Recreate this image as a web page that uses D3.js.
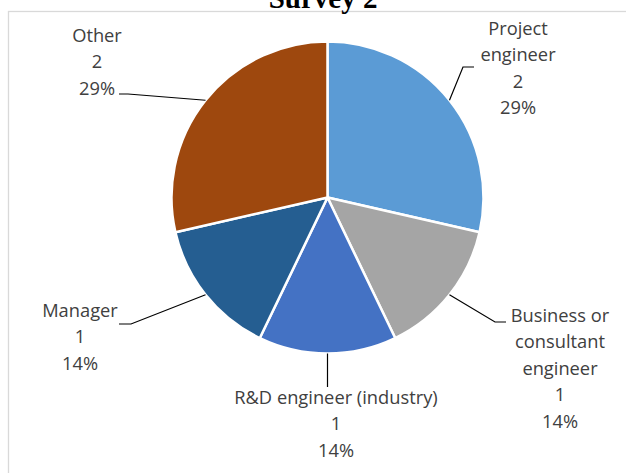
<!DOCTYPE html>
<html><head><meta charset="utf-8">
<script src="https://cdn.jsdelivr.net/npm/d3@7"></script>
<style>html,body{margin:0;padding:0;background:#fff;overflow:hidden}</style>
</head><body>
<svg id="chart" width="626" height="473"></svg>
<script>
const title = "Survey 2";
const categories = ["Project engineer", "Business or consultant engineer", "R&D engineer (industry)", "Manager", "Other"];
const values = [2, 1, 1, 1, 2];
const labelLines = [["Project", "engineer"], ["Business or", "consultant", "engineer"], ["R&D engineer (industry)"], ["Manager"], ["Other"]];
const colors = ["#5B9BD5", "#A5A5A5", "#4472C4", "#255E91", "#9E480E"];

// layout (positions only)
const cx = 327.5, cy = 197.5, R = 156;
const lineH = 26.5;
const labelLayout = [
  {x: 518, y: 28, leader: [[474, 67], [463, 67]]},
  {x: 560, y: 315, leader: [[506, 322], [495, 322]]},
  {x: 336, y: 397, leader: [[327.5, 387]]},
  {x: 80, y: 310, leader: [[119, 324], [131, 324]]},
  {x: 97, y: 35, leader: [[119, 94], [128, 94]]}
];

const svg = d3.select("#chart");
svg.append("rect").attr("x", 8.5).attr("y", 11.5).attr("width", 700).attr("height", 600)
  .attr("fill", "#fff").attr("stroke", "#d9d9d9").attr("stroke-width", 1.3);

svg.append("text").attr("x", 323).attr("y", 8).attr("text-anchor", "middle")
  .attr("font-family", "Liberation Serif, Times New Roman, serif").attr("font-weight", "bold")
  .attr("font-size", 29).attr("fill", "#000").text(title);

const data = categories.map((c, i) => ({cat: c, value: values[i], i}));
const total = d3.sum(values);
const pie = d3.pie().value(d => d.value).sort(null).startAngle(0).endAngle(2 * Math.PI);
const arcs = pie(data);
const arc = d3.arc().innerRadius(0).outerRadius(R);

const g = svg.append("g").attr("transform", `translate(${cx},${cy})`);
g.selectAll("path.slice").data(arcs).join("path").attr("class", "slice")
  .attr("d", arc).attr("fill", d => colors[d.data.i])
  .attr("stroke", "#fff").attr("stroke-width", 2.5).attr("stroke-linejoin", "round");

const pct = d3.format(".0%");
arcs.forEach(a => {
  const L = labelLayout[a.data.i];
  const mid = (a.startAngle + a.endAngle) / 2;
  const px = cx + R * Math.sin(mid), py = cy - R * Math.cos(mid);
  const pts = L.leader.concat([[px, py]]);
  svg.append("path").attr("d", d3.line()(pts)).attr("fill", "none")
    .attr("stroke", "#000").attr("stroke-width", 1.2);
  const lines = labelLines[a.data.i].concat([String(a.data.value), pct(a.data.value / total)]);
  const t = svg.append("text").attr("text-anchor", "middle")
    .attr("font-family", "Open Sans, sans-serif").attr("font-size", 18.3).attr("fill", "#404040");
  lines.forEach((s, k) => {
    t.append("tspan").attr("x", L.x).attr("y", L.y + k * lineH).attr("dy", "0.36em").text(s);
  });
});
</script>
</body></html>
